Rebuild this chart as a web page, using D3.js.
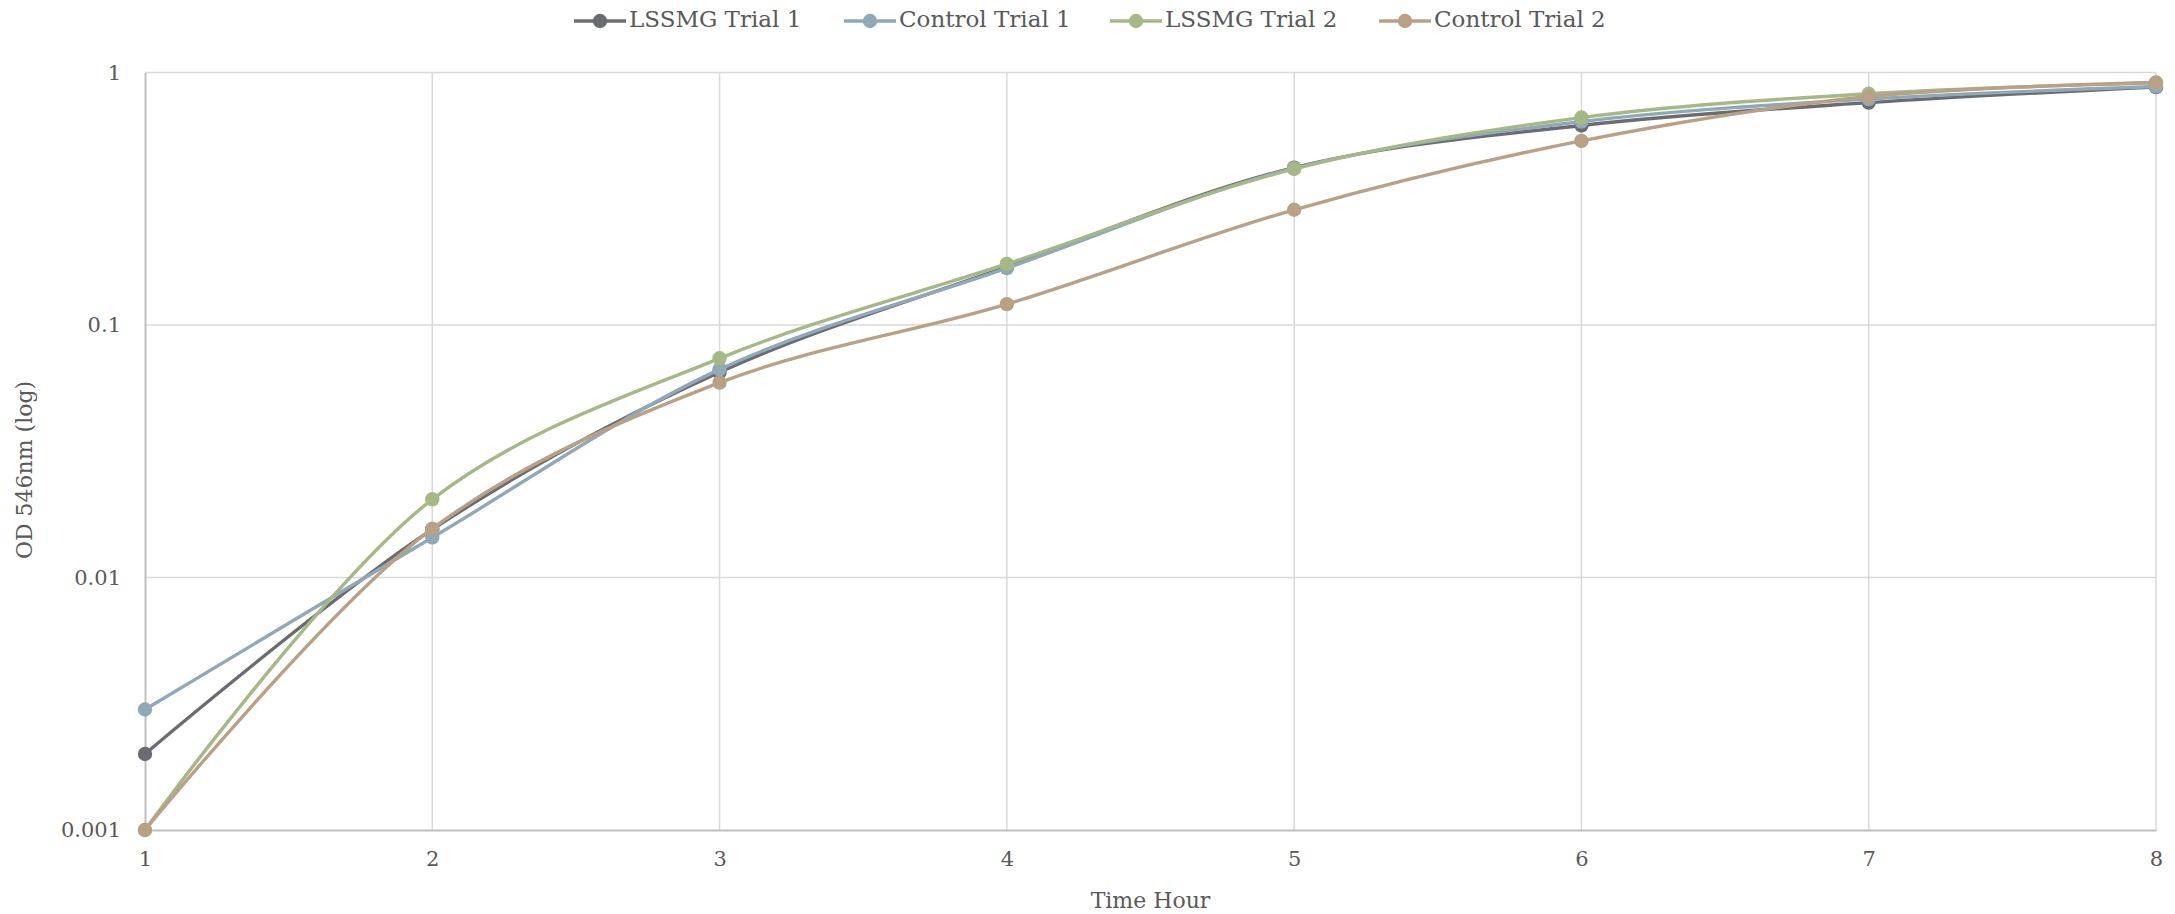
<!DOCTYPE html>
<html>
<head>
<meta charset="utf-8">
<script src="https://cdn.jsdelivr.net/npm/d3@7"></script>
<style>
  html, body { margin: 0; padding: 0; background: #fff; }
  text { font-family: "DejaVu Serif", "Liberation Serif", serif; fill: #595959; }
</style>
</head>
<body>
<div id="chart"></div>
<script>
(function () {
  const hours = [1, 2, 3, 4, 5, 6, 7, 8];
  const seriesNames = ["LSSMG Trial 1", "Control Trial 1", "LSSMG Trial 2", "Control Trial 2"];
  const lssmg1 = [0.002, 0.0155, 0.065, 0.170, 0.420, 0.617, 0.760, 0.875];
  const control1 = [0.003, 0.0144, 0.0667, 0.168, 0.418, 0.639, 0.785, 0.880];
  const lssmg2 = [0.001, 0.0204, 0.0738, 0.1745, 0.415, 0.663, 0.824, 0.910];
  const control2 = [0.001, 0.0156, 0.0591, 0.121, 0.286, 0.536, 0.803, 0.913];
  const yTicks = [0.001, 0.01, 0.1, 1];
  const yTickLabels = ["0.001", "0.01", "0.1", "1"];
  const colors = ["#6b6b72", "#8fa9b8", "#a5b886", "#b9a185"];

  const WIDTH = 2175, HEIGHT = 914;
  const margin = { left: 145, right: 19, top: 72.5, bottom: 84 };

  const svg = d3.select("#chart").append("svg")
    .attr("width", WIDTH).attr("height", HEIGHT);

  const x = d3.scaleLinear().domain([1, 8]).range([margin.left, WIDTH - margin.right]);
  const y = d3.scaleLog().domain([0.001, 1]).range([HEIGHT - margin.bottom, margin.top]);

  // gridlines
  svg.append("g").selectAll("line.h").data(yTicks.slice(1)).join("line")
    .attr("x1", x(1)).attr("x2", x(8))
    .attr("y1", d => y(d)).attr("y2", d => y(d))
    .attr("stroke", "#d9d9d9").attr("stroke-width", 1.5);
  svg.append("g").selectAll("line.v").data(hours.slice(1)).join("line")
    .attr("x1", d => x(d)).attr("x2", d => x(d))
    .attr("y1", y(1)).attr("y2", y(0.001))
    .attr("stroke", "#d9d9d9").attr("stroke-width", 1.5);

  // axes
  const xAxis = svg.append("g").attr("transform", `translate(0,${y(0.001)})`)
    .call(d3.axisBottom(x).tickValues(hours).tickFormat(d3.format("d")).tickSize(0).tickPadding(21));
  const yAxis = svg.append("g").attr("transform", `translate(${x(1)},0)`)
    .call(d3.axisLeft(y).tickValues(yTicks).tickFormat((d, i) => yTickLabels[i]).tickSize(0).tickPadding(24));
  [xAxis, yAxis].forEach(a => {
    a.select(".domain").attr("stroke", "#bfbfbf").attr("stroke-width", 2);
    a.selectAll("text").style("font-size", "21px").style("fill", "#595959")
      .style("font-family", '"DejaVu Serif", serif');
  });

  // series
  const data = [lssmg1, control1, lssmg2, control2];
  const line = d3.line()
    .x((d, i) => x(hours[i]))
    .y(d => y(d))
    .curve(d3.curveCatmullRom.alpha(0.5));

  data.forEach((vals, s) => {
    const g = svg.append("g");
    g.append("path").datum(vals)
      .attr("d", line).attr("fill", "none")
      .attr("stroke", colors[s]).attr("stroke-width", 3.4)
      .attr("stroke-linejoin", "round").attr("stroke-linecap", "round");
    g.selectAll("circle").data(vals).join("circle")
      .attr("cx", (d, i) => x(hours[i])).attr("cy", d => y(d))
      .attr("r", 7.2).attr("fill", colors[s]);
  });

  // axis titles
  svg.append("text").attr("x", (x(1) + x(8)) / 2).attr("y", 902)
    .attr("text-anchor", "middle").attr("dominant-baseline", "middle")
    .style("font-size", "22px").text("Time Hour");
  svg.append("text").attr("transform", `translate(26,470) rotate(-90)`)
    .attr("text-anchor", "middle").attr("dominant-baseline", "middle")
    .style("font-size", "22px").text("OD 546nm (log)");

  // legend
  const legendX = [574, 844, 1110, 1379];
  const legend = svg.append("g");
  seriesNames.forEach((name, s) => {
    const lg = legend.append("g").attr("transform", `translate(${legendX[s]},21)`);
    lg.append("line").attr("x1", 0).attr("x2", 52).attr("y1", 0).attr("y2", 0)
      .attr("stroke", colors[s]).attr("stroke-width", 3.4);
    lg.append("circle").attr("cx", 26).attr("cy", 0).attr("r", 7.2).attr("fill", colors[s]);
    lg.append("text").attr("x", 55).attr("y", 0).attr("dominant-baseline", "middle")
      .style("font-size", "23px").text(name);
  });
})();
</script>
</body>
</html>
